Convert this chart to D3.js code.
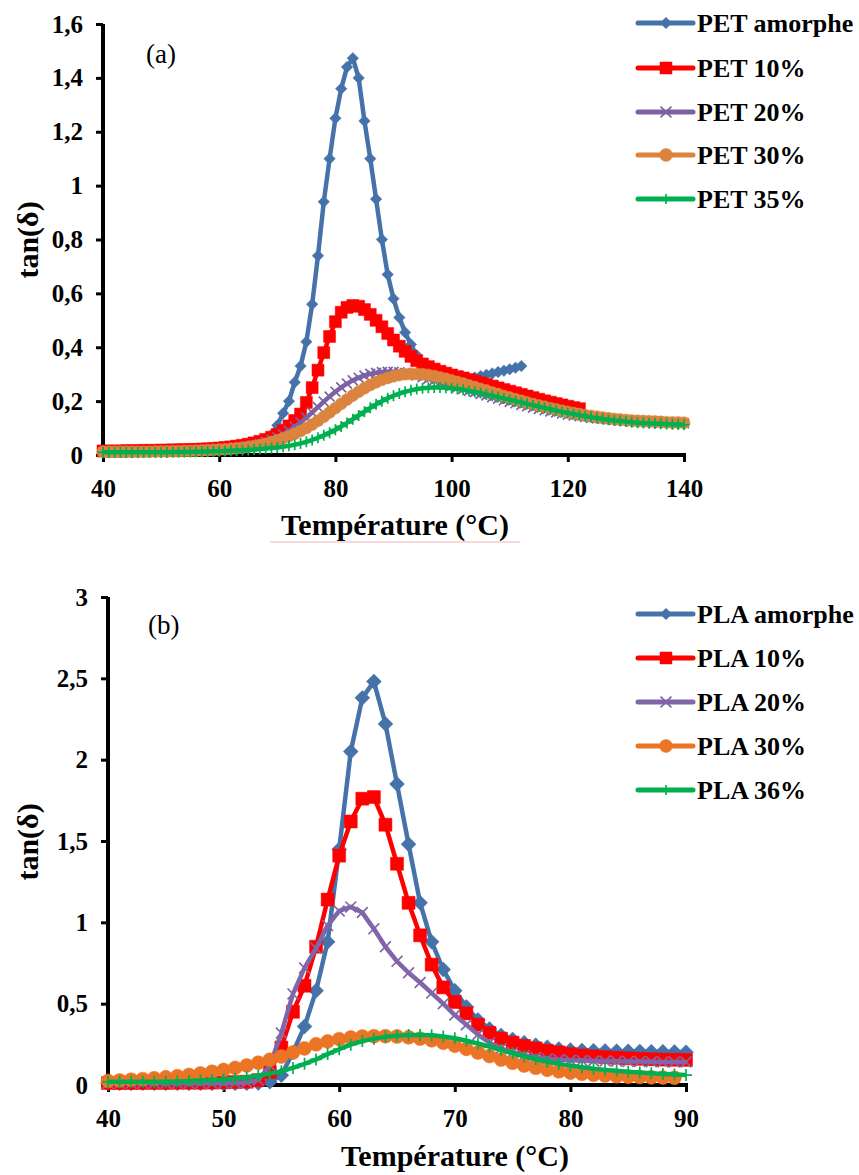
<!DOCTYPE html>
<html><head><meta charset="utf-8">
<script src="https://cdn.jsdelivr.net/npm/d3@7"></script>
<style>body{margin:0;background:#fff} svg{display:block} text{font-family:"Liberation Serif","Times New Roman",serif}</style>
</head><body><svg id="c" width="859" height="1175"></svg>
<script>
// ---------- DATA (a) PET ----------
const petNames = ["PET amorphe","PET 10%","PET 20%","PET 30%","PET 35%"];
const petStart = [40,40,40,40,40];
const petAmorphe = [
0.010,0.010,0.010,0.011,0.011,0.011,0.012,0.012,0.012,0.013,
0.013,0.013,0.014,0.014,0.015,0.015,0.016,0.016,0.017,0.018,
0.019,0.020,0.021,0.022,0.024,0.026,0.030,0.036,0.050,0.075,
0.110,0.155,0.200,0.270,0.330,0.420,0.560,0.740,0.940,1.100,
1.250,1.360,1.440,1.473,1.400,1.240,1.100,0.950,0.800,0.670,
0.580,0.510,0.455,0.410,0.370,0.338,0.314,0.297,0.286,0.280,
0.277,0.277,0.279,0.283,0.288,0.293,0.298,0.303,0.308,0.313,
0.318,0.324,0.330];
const pet10 = [
0.015,0.015,0.015,0.015,0.016,0.016,0.016,0.017,0.017,0.017,
0.018,0.018,0.019,0.019,0.020,0.020,0.021,0.022,0.023,0.024,
0.026,0.028,0.030,0.033,0.036,0.040,0.045,0.051,0.058,0.066,
0.076,0.090,0.108,0.128,0.152,0.195,0.250,0.315,0.380,0.440,
0.495,0.530,0.548,0.555,0.552,0.540,0.522,0.500,0.476,0.451,
0.427,0.404,0.385,0.366,0.350,0.338,0.328,0.319,0.311,0.304,
0.297,0.291,0.286,0.280,0.274,0.268,0.262,0.256,0.249,0.243,
0.237,0.231,0.225,0.219,0.213,0.207,0.201,0.196,0.191,0.186,
0.181,0.176,0.172];
const pet20 = [
0.010,0.010,0.010,0.010,0.010,0.011,0.011,0.011,0.012,0.012,
0.012,0.013,0.013,0.014,0.014,0.015,0.016,0.016,0.017,0.018,
0.019,0.020,0.022,0.024,0.027,0.031,0.036,0.042,0.049,0.057,
0.066,0.077,0.090,0.105,0.121,0.139,0.158,0.178,0.198,0.217,
0.235,0.251,0.265,0.277,0.287,0.295,0.301,0.305,0.308,0.309,
0.309,0.307,0.304,0.300,0.295,0.289,0.283,0.277,0.270,0.264,
0.257,0.251,0.245,0.239,0.233,0.227,0.221,0.215,0.209,0.203,
0.197,0.192,0.186,0.181,0.176,0.171,0.166,0.162,0.158,0.154,
0.150,0.147,0.144,0.141,0.138,0.136,0.134,0.132,0.130,0.128,
0.127,0.125,0.124,0.123,0.122,0.121,0.120,0.119,0.119,0.118,
0.118];
const pet30 = [
0.012,0.012,0.012,0.012,0.012,0.012,0.012,0.012,0.012,0.013,
0.013,0.013,0.014,0.014,0.015,0.015,0.016,0.017,0.018,0.019,
0.020,0.021,0.023,0.025,0.027,0.030,0.033,0.037,0.042,0.048,
0.055,0.062,0.070,0.079,0.089,0.100,0.113,0.127,0.142,0.158,
0.174,0.190,0.206,0.221,0.235,0.248,0.260,0.270,0.279,0.286,
0.292,0.297,0.300,0.301,0.301,0.300,0.297,0.293,0.288,0.283,
0.277,0.271,0.265,0.258,0.252,0.245,0.239,0.232,0.226,0.219,
0.213,0.207,0.201,0.195,0.189,0.184,0.179,0.174,0.169,0.164,
0.160,0.156,0.152,0.148,0.145,0.142,0.139,0.136,0.134,0.132,
0.130,0.128,0.127,0.126,0.125,0.124,0.123,0.122,0.121,0.121,
0.120];
const pet35 = [
0.010,0.010,0.010,0.010,0.010,0.010,0.010,0.010,0.010,0.010,
0.010,0.010,0.011,0.011,0.011,0.012,0.012,0.013,0.013,0.014,
0.014,0.015,0.016,0.017,0.018,0.019,0.020,0.022,0.024,0.026,
0.028,0.031,0.034,0.038,0.043,0.049,0.056,0.064,0.073,0.083,
0.094,0.106,0.119,0.133,0.147,0.161,0.175,0.188,0.200,0.211,
0.220,0.228,0.235,0.240,0.245,0.248,0.250,0.251,0.251,0.250,
0.248,0.245,0.242,0.238,0.234,0.230,0.225,0.220,0.215,0.210,
0.205,0.200,0.195,0.190,0.185,0.180,0.175,0.170,0.165,0.160,
0.156,0.152,0.148,0.144,0.140,0.137,0.134,0.131,0.128,0.126,
0.124,0.122,0.120,0.119,0.118,0.117,0.116,0.115,0.114,0.113,
0.112];
const petXTicks = [40,60,80,100,120,140];
const petYTicks = [0,0.2,0.4,0.6,0.8,1,1.2,1.4,1.6];

// ---------- DATA (b) PLA ----------
const plaNames = ["PLA amorphe","PLA 10%","PLA 20%","PLA 30%","PLA 36%"];
const plaStart = [40,40,40,40,40];
const plaAmorphe = [
0.010,0.010,0.010,0.010,0.010,0.010,0.010,0.010,0.010,0.010,
0.010,0.010,0.010,0.012,0.020,0.060,0.200,0.360,0.580,0.880,
1.450,2.050,2.380,2.480,2.220,1.850,1.480,1.120,0.880,0.710,
0.580,0.480,0.400,0.345,0.305,0.280,0.260,0.245,0.232,0.222,
0.215,0.212,0.210,0.209,0.208,0.207,0.206,0.205,0.204,0.203,
0.202];
const pla10 = [
0.012,0.012,0.012,0.013,0.013,0.013,0.014,0.014,0.014,0.015,
0.016,0.018,0.020,0.030,0.080,0.230,0.450,0.610,0.850,1.140,
1.410,1.620,1.760,1.770,1.600,1.360,1.120,0.920,0.740,0.600,
0.510,0.440,0.370,0.320,0.285,0.260,0.240,0.225,0.210,0.200,
0.190,0.182,0.176,0.171,0.167,0.164,0.161,0.158,0.156,0.155,
0.154];
const pla20 = [
0.010,0.010,0.010,0.010,0.010,0.010,0.010,0.010,0.010,0.010,
0.010,0.012,0.015,0.030,0.120,0.320,0.560,0.720,0.840,0.980,
1.070,1.095,1.060,0.960,0.850,0.760,0.690,0.630,0.565,0.500,
0.430,0.370,0.310,0.260,0.225,0.200,0.182,0.170,0.162,0.156,
0.152,0.150,0.148,0.147,0.146,0.145,0.144,0.143,0.142,0.142,
0.141];
const pla30 = [
0.025,0.028,0.032,0.036,0.041,0.047,0.054,0.062,0.071,0.081,
0.092,0.105,0.120,0.137,0.155,0.175,0.200,0.225,0.250,0.268,
0.282,0.292,0.298,0.300,0.300,0.298,0.293,0.285,0.275,0.260,
0.242,0.222,0.200,0.178,0.156,0.137,0.120,0.106,0.094,0.084,
0.076,0.069,0.063,0.058,0.054,0.051,0.049,0.047,0.046,0.045];
const pla36 = [
0.020,0.020,0.020,0.020,0.020,0.020,0.022,0.024,0.027,0.030,
0.034,0.040,0.048,0.058,0.070,0.085,0.105,0.130,0.157,0.190,
0.220,0.248,0.270,0.285,0.296,0.303,0.307,0.308,0.306,0.298,
0.287,0.272,0.255,0.236,0.216,0.195,0.176,0.158,0.143,0.130,
0.119,0.109,0.100,0.093,0.087,0.082,0.077,0.072,0.068,0.064,
0.061];
const plaXTicks = [40,50,60,70,80,90];
const plaYTicks = [0,0.5,1,1.5,2,2.5,3];

// ---------- DRAWING ----------
const svg = d3.select("#c");
const fmt = d => String(d).replace(".", ",");

function markerPath(type, s) {
  const h = s / 2;
  switch (type) {
    case "diamond": { const r = h * 1.15; return `M0,${-r}L${r},0L0,${r}L${-r},0Z`; }
    case "square": return `M${-h},${-h}h${s}v${s}h${-s}Z`;
    case "circle": return `M${-h},0a${h},${h} 0 1,0 ${s},0a${h},${h} 0 1,0 ${-s},0Z`;
    case "x": { const k = h * 0.9; return `M${-k},${-k}L${k},${k}M${-k},${k}L${k},${-k}`; }
    case "plus": return `M0,${-h}V${h}M${-h},0H${h}`;
  }
}
function styleMarker(sel, type, color) {
  if (type === "x" || type === "plus") sel.attr("fill", "none").attr("stroke", color).attr("stroke-width", 1.7);
  else sel.attr("fill", color).attr("stroke", color).attr("stroke-width", 0.5);
}

function drawChart(cfg) {
  const g = svg.append("g");
  const x = d3.scaleLinear().domain(cfg.xDomain).range(cfg.xRange);
  const y = d3.scaleLinear().domain(cfg.yDomain).range(cfg.yRange);

  // axes
  const ax = g.append("g").attr("transform", `translate(0,${cfg.yRange[0]})`)
    .call(d3.axisBottom(x).tickValues(cfg.xTicks).tickFormat(fmt).tickSizeInner(7).tickSizeOuter(0).tickPadding(cfg.xPad));
  const ay = g.append("g").attr("transform", `translate(${cfg.xRange[0]},0)`)
    .call(d3.axisLeft(y).tickValues(cfg.yTicks).tickFormat(fmt).tickSizeInner(7).tickSizeOuter(0).tickPadding(cfg.yPad));
  [ax, ay].forEach(a => {
    a.select(".domain").attr("stroke", "#000").attr("stroke-width", 4);
    a.selectAll(".tick line").attr("stroke", "#000").attr("stroke-width", 3);
    a.selectAll(".tick text").attr("fill", "#000").attr("font-size", 25).attr("font-weight", "bold")
      .attr("font-family", '"Liberation Serif","Times New Roman",serif');
  });
  ay.select(".domain").attr("d", `M0,${cfg.yRange[0] + 2}V${cfg.yRange[1]}`);
  ax.select(".domain").attr("d", `M-2,0H${cfg.xRange[1] - cfg.xRange[0] + 2}`).attr("transform", `translate(${cfg.xRange[0]},0)`);

  // titles
  g.append("text").attr("x", cfg.xTitle[0]).attr("y", cfg.xTitle[1]).attr("text-anchor", "middle")
    .attr("font-size", 30).attr("font-weight", "bold").text("Température (°C)");
  g.append("text").attr("transform", `translate(${cfg.yTitle[0]},${cfg.yTitle[1]}) rotate(-90)`)
    .attr("text-anchor", "middle").attr("dominant-baseline", "central")
    .attr("font-size", 30).attr("font-weight", "bold").text("tan(δ)");
  g.append("text").attr("x", cfg.label[0]).attr("y", cfg.label[1]).attr("font-size", 27).text(cfg.labelText);

  // series
  const line = d3.line().x(d => x(d[0])).y(d => y(d[1]));
  cfg.series.forEach((s, si) => {
    const temps = d3.range(s.start, s.start + s.values.length);
    const pts = temps.map((t, i) => [t, s.values[i]]);
    const sg = g.append("g");
    sg.append("path").datum(pts).attr("d", line).attr("fill", "none")
      .attr("stroke", s.color).attr("stroke-width", cfg.lineW).attr("stroke-linejoin", "round");
    sg.selectAll("path.m").data(pts).join("path").attr("class", "m")
      .attr("transform", d => `translate(${x(d[0])},${y(d[1])})`)
      .attr("d", markerPath(s.marker, cfg.mSize[s.marker]))
      .call(styleMarker, s.marker, s.color);

    // legend
    const ly = cfg.legendY[si];
    const lg = g.append("g");
    lg.append("line").attr("x1", 638).attr("x2", 693).attr("y1", ly).attr("y2", ly)
      .attr("stroke", s.color).attr("stroke-width", 5).attr("stroke-linecap", "round");
    lg.append("path").attr("transform", `translate(666,${ly})`)
      .attr("d", markerPath(s.marker, cfg.legendM[s.marker])).call(styleMarker, s.marker, s.color);
    lg.append("text").attr("x", 697).attr("y", ly + 9).attr("font-size", 26).attr("font-weight", "bold")
      .text(s.name);
  });
}

const petMarkers = ["diamond", "square", "x", "circle", "plus"];
const petColors = ["#4672AA", "#FF0000", "#7B62A3", "#DB843D", "#00B050"];
const plaColors = ["#4672AA", "#FF0000", "#8066A8", "#EB7524", "#00B050"];

drawChart({
  xDomain: [40, 140], xRange: [103, 684], yDomain: [0, 1.6], yRange: [455, 24],
  xTicks: petXTicks, yTicks: petYTicks, xPad: 17, yPad: 13,
  xTitle: [395, 535], yTitle: [27, 240], label: [146, 63], labelText: "(a)",
  lineW: 4.5,
  mSize: {diamond: 10, square: 12, x: 11, circle: 12, plus: 11},
  legendM: {diamond: 10, square: 12, x: 12, circle: 13, plus: 10},
  legendY: [23, 68, 112, 155, 199],
  series: [petAmorphe, pet10, pet20, pet30, pet35].map((v, i) => ({
    name: petNames[i], start: petStart[i], values: v, color: petColors[i], marker: petMarkers[i]}))
});
// faint proofing underline under the first x title
svg.append("line").attr("x1", 270).attr("x2", 520).attr("y1", 542).attr("y2", 542)
  .attr("stroke", "#f0b4b4").attr("stroke-width", 1);

drawChart({
  xDomain: [40, 90], xRange: [108, 686], yDomain: [0, 3], yRange: [1085, 597],
  xTicks: plaXTicks, yTicks: plaYTicks, xPad: 17, yPad: 13,
  xTitle: [455, 1166], yTitle: [27, 842], label: [148, 634], labelText: "(b)",
  lineW: 4.5,
  mSize: {diamond: 13, square: 13, x: 12, circle: 14, plus: 12},
  legendM: {diamond: 10, square: 12, x: 12, circle: 13, plus: 10},
  legendY: [614, 658, 702, 746, 790],
  series: [plaAmorphe, pla10, pla20, pla30, pla36].map((v, i) => ({
    name: plaNames[i], start: plaStart[i], values: v, color: plaColors[i], marker: petMarkers[i]}))
});
</script></body></html>
